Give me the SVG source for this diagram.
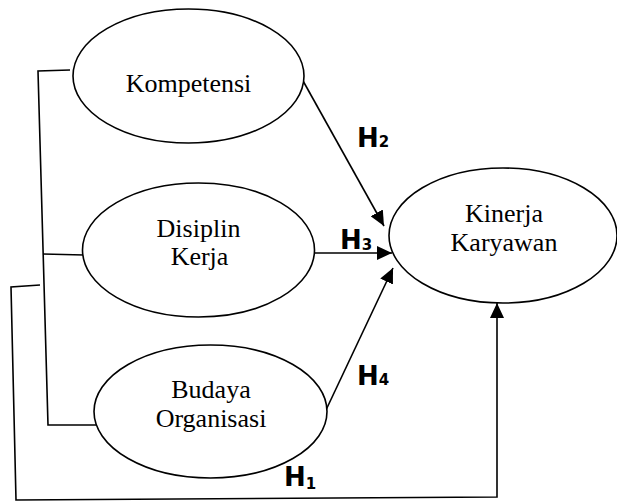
<svg xmlns="http://www.w3.org/2000/svg" width="617" height="502" viewBox="0 0 617 502">
<style>
.node ellipse{fill:#fff;stroke:#000;stroke-width:1.6}
.lbl{font-family:"Liberation Serif","Times New Roman",serif;font-size:26px;fill:#000;text-anchor:middle}
.conn{fill:none;stroke:#000;stroke-width:1.6}
.h{font-family:"DejaVu Sans","Liberation Sans",sans-serif;font-weight:bold;font-size:26px;fill:#000}
.sub{font-size:15px}
</style>
<defs>
<marker id="arr" markerUnits="userSpaceOnUse" markerWidth="16" markerHeight="14" refX="15" refY="7" orient="auto">
<path d="M0,0 L15,7 L0,14 Z" fill="#000"/>
</marker>
</defs>
<rect width="617" height="502" fill="#fff"/>
<g id="connectors">
<path class="conn" d="M70,70 L38,71 L48,425 L96,425"/>
<path class="conn" d="M43,254 L84,255"/>
<path class="conn" d="M40,285 L11,287 L16,500 L497,497 L497,303" marker-end="url(#arr)"/>
<path class="conn" d="M302,79 L384,226" marker-end="url(#arr)"/>
<path class="conn" d="M314,253 L392,253" marker-end="url(#arr)"/>
<path class="conn" d="M326,410 L393,268" marker-end="url(#arr)"/>
</g>
<g id="kompetensi" class="node">
<ellipse cx="188.5" cy="76" rx="115.5" ry="67"/>
<text class="lbl" x="188.5" y="92">Kompetensi</text>
</g>
<g id="disiplin" class="node">
<ellipse cx="198.5" cy="250" rx="116" ry="67"/>
<text class="lbl" x="198.5" y="237">Disiplin</text>
<text class="lbl" x="199.5" y="265">Kerja</text>
</g>
<g id="budaya" class="node">
<ellipse cx="210.5" cy="411.5" rx="116.5" ry="66.5"/>
<text class="lbl" x="211" y="398">Budaya</text>
<text class="lbl" x="211" y="427">Organisasi</text>
</g>
<g id="kinerja" class="node">
<ellipse cx="503" cy="235.5" rx="114" ry="67.5"/>
<text class="lbl" x="504" y="222">Kinerja</text>
<text class="lbl" x="504" y="251">Karyawan</text>
</g>
<g id="labels">
<text class="h" x="357" y="147">H<tspan class="sub" dy="0">2</tspan></text>
<text class="h" x="340" y="249">H<tspan class="sub" dy="1">3</tspan></text>
<text class="h" x="357" y="385">H<tspan class="sub" dy="0">4</tspan></text>
<text class="h" x="284" y="486">H<tspan class="sub" dy="3">1</tspan></text>
</g>
</svg>
